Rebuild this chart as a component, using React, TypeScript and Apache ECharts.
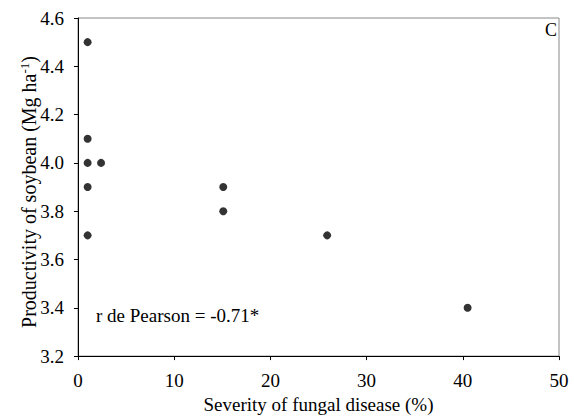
import React, { useEffect, useRef } from "react";
import * as echarts from "echarts";

const severity = [1, 1, 1, 2.4, 1, 1, 15.1, 15.1, 25.9, 40.5];
const productivity = [4.5, 4.1, 4.0, 4.0, 3.9, 3.7, 3.9, 3.8, 3.7, 3.4];
const xTicks = [0, 10, 20, 30, 40, 50];
const yTicks = [3.2, 3.4, 3.6, 3.8, 4.0, 4.2, 4.4, 4.6];
const xTitle = "Severity of fungal disease (%)";
const yTitleMain = "Productivity of soybean (Mg ha";
const yTitleSup = "-1";
const yTitleEnd = ")";
const annotation = "r de Pearson = -0.71*";
const panelLabel = "C";

const FONT = "Liberation Serif";

export default function App() {
  const ref = useRef<HTMLDivElement>(null);
  useEffect(() => {
    if (!ref.current) return;
    const chart = echarts.init(ref.current, null, { renderer: "svg" });
    chart.setOption({
      animation: false,
      backgroundColor: "#fff",
      textStyle: { fontFamily: FONT },
      grid: {
        left: 78,
        top: 18,
        right: 15,
        bottom: 55,
        show: true,
        borderColor: "#888",
        borderWidth: 1,
        backgroundColor: "transparent",
      },
      xAxis: {
        type: "value",
        min: xTicks[0],
        max: xTicks[xTicks.length - 1],
        interval: 10,
        name: xTitle,
        nameLocation: "middle",
        nameGap: 29,
        nameTextStyle: { fontFamily: FONT, fontSize: 19, color: "#000" },
        axisLine: { show: true, lineStyle: { color: "#000", width: 1 } },
        axisTick: { show: true, length: 4, inside: false, lineStyle: { color: "#000" } },
        axisLabel: { fontFamily: FONT, fontSize: 19, color: "#000", margin: 15 },
        splitLine: { show: false },
      },
      yAxis: {
        type: "value",
        min: yTicks[0],
        max: yTicks[yTicks.length - 1],
        interval: 0.2,
        axisLine: { show: true, lineStyle: { color: "#000", width: 1 } },
        axisTick: { show: true, length: 4, inside: false, lineStyle: { color: "#000" } },
        axisLabel: {
          fontFamily: FONT,
          fontSize: 19,
          color: "#000",
          margin: 14,
          formatter: (v: number) => v.toFixed(1),
        },
        splitLine: { show: false },
      },
      graphic: [
        {
          type: "text",
          x: 28,
          y: 192,
          rotation: Math.PI / 2,
          style: {
            text: `{a|${yTitleMain}}{s|${yTitleSup}}{a|${yTitleEnd}}`,
            align: "center",
            verticalAlign: "middle",
            fontFamily: FONT,
            fontSize: 20,
            fill: "#000",
            rich: {
              a: { fontFamily: FONT, fontSize: 20, fill: "#000", verticalAlign: "bottom", lineHeight: 21 },
              s: { fontFamily: FONT, fontSize: 13, fill: "#000", verticalAlign: "top", lineHeight: 21 },
            },
          },
        },
        {
          type: "text",
          left: 96,
          top: 306,
          style: { text: annotation, fontFamily: FONT, fontSize: 19, fill: "#000" },
        },
        {
          type: "text",
          left: 545,
          top: 21,
          style: { text: panelLabel, fontFamily: FONT, fontSize: 18, fill: "#000" },
        },
      ],
      series: [
        {
          type: "scatter",
          symbol: "circle",
          symbolSize: 8,
          itemStyle: { color: "#000" },
          data: severity.map((s, i) => [s, productivity[i]]),
        },
      ],
    });
    return () => chart.dispose();
  }, []);
  return (
    <div
      ref={ref}
      style={{ position: "absolute", left: 0, top: 0, width: 574, height: 419 }}
    />
  );
}
